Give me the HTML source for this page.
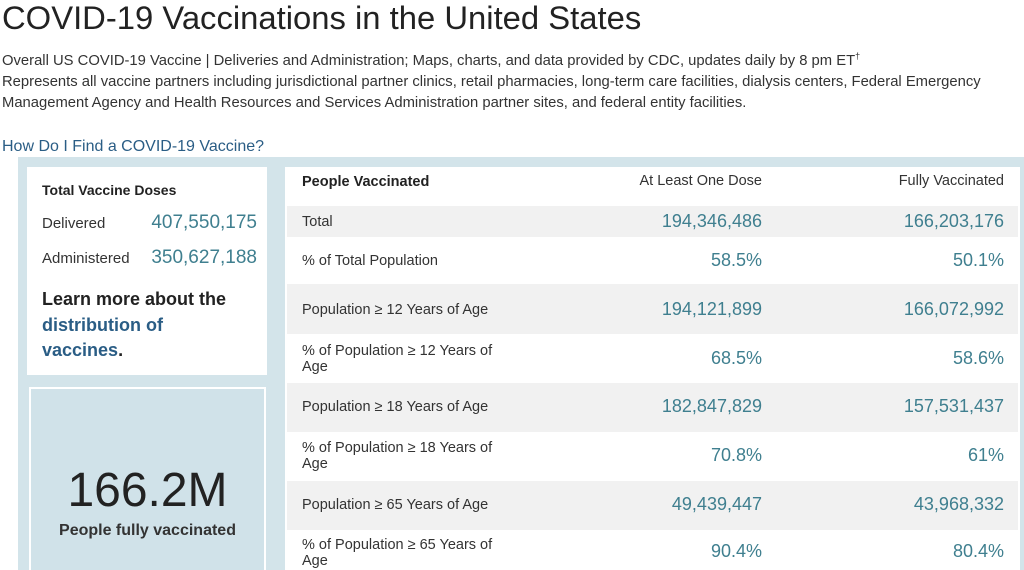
<!DOCTYPE html>
<html><head><meta charset="utf-8"><style>
html,body{margin:0;width:1024px;height:570px;overflow:hidden}
body{background:#fff;font-family:"Liberation Sans",sans-serif;color:#222;position:relative}
.a{position:absolute;white-space:nowrap}
.num{color:#3f7f8f}
.row{position:absolute;left:287px;width:731px}
.row .l{position:absolute;left:15px;font-size:14.5px;color:#333;line-height:16px}
.row .c1{position:absolute;right:256px;font-size:18px}
.row .c2{position:absolute;right:14px;font-size:18px}
.g{background:#f1f1f1}
</style></head><body>
<div class="a" style="left:2px;top:-1px;font-size:32.8px;color:#222">COVID-19 Vaccinations in the United States</div>
<div class="a" style="left:2px;top:46px;font-size:14.8px;color:#333;line-height:21px">Overall US COVID-19 Vaccine | Deliveries and Administration; Maps, charts, and data provided by CDC, updates daily by 8 pm ET<sup style="font-size:9px">†</sup><br>Represents all vaccine partners including jurisdictional partner clinics, retail pharmacies, long-term care facilities, dialysis centers, Federal Emergency<br>Management Agency and Health Resources and Services Administration partner sites, and federal entity facilities.</div>
<div class="a" style="left:2px;top:138px;font-size:16px;color:#2a5d85">How Do I Find a COVID-19 Vaccine?</div>
<div class="a" style="left:18px;top:157px;width:1006px;height:413px;background:#d3e4ea"></div>
<div class="a" style="left:27px;top:167px;width:240px;height:208px;background:#fff">
 <div class="a" style="left:15px;top:15px;font-size:14px;font-weight:bold">Total Vaccine Doses</div>
 <div class="a" style="left:15px;top:48px;font-size:15px;color:#333">Delivered</div>
 <div class="a num" style="right:10px;top:45px;font-size:19px">407,550,175</div>
 <div class="a" style="left:15px;top:83px;font-size:15px;color:#333">Administered</div>
 <div class="a num" style="right:10px;top:80px;font-size:19px">350,627,188</div>
 <div class="a" style="left:15px;top:120px;font-size:18px;font-weight:bold;line-height:25.5px">Learn more about the<br><span style="color:#2a5d85">distribution of<br>vaccines</span>.</div>
</div>
<div class="a" style="left:29px;top:387px;width:233px;height:190px;background:#d0e2e9;border:2px solid #fff">
 <div class="a" style="left:0;width:233px;text-align:center;top:74px;font-size:48px;color:#222">166.2M</div>
 <div class="a" style="left:0;width:233px;text-align:center;top:133px;font-size:16px;font-weight:bold;color:#333">People fully vaccinated</div>
</div>
<div class="a" style="left:285px;top:167px;width:735px;height:403px;background:#fff"></div>
<div class="row" style="top:167px;height:30px">
 <div class="l" style="top:7px;font-weight:bold;color:#222">People Vaccinated</div>
 <div class="c1" style="top:6px;font-size:14.5px;color:#333">At Least One Dose</div>
 <div class="c2" style="top:6px;font-size:14.5px;color:#333">Fully Vaccinated</div>
</div>
<div class="row g" style="top:206px;height:31px"><div class="l" style="top:8px">Total</div><div class="c1 num" style="top:5px">194,346,486</div><div class="c2 num" style="top:5px">166,203,176</div></div>
<div class="row" style="top:237px;height:47px"><div class="l" style="top:16px">% of Total Population</div><div class="c1 num" style="top:13px">58.5%</div><div class="c2 num" style="top:13px">50.1%</div></div>
<div class="row g" style="top:284px;height:50px"><div class="l" style="top:18px">Population ≥ 12 Years of Age</div><div class="c1 num" style="top:15px">194,121,899</div><div class="c2 num" style="top:15px">166,072,992</div></div>
<div class="row" style="top:334px;height:49px"><div class="l" style="top:9px">% of Population ≥ 12 Years of<br>Age</div><div class="c1 num" style="top:14px">68.5%</div><div class="c2 num" style="top:14px">58.6%</div></div>
<div class="row g" style="top:383px;height:49px"><div class="l" style="top:16px">Population ≥ 18 Years of Age</div><div class="c1 num" style="top:13px">182,847,829</div><div class="c2 num" style="top:13px">157,531,437</div></div>
<div class="row" style="top:432px;height:49px"><div class="l" style="top:8px">% of Population ≥ 18 Years of<br>Age</div><div class="c1 num" style="top:13px">70.8%</div><div class="c2 num" style="top:13px">61%</div></div>
<div class="row g" style="top:481px;height:49px"><div class="l" style="top:16px">Population ≥ 65 Years of Age</div><div class="c1 num" style="top:13px">49,439,447</div><div class="c2 num" style="top:13px">43,968,332</div></div>
<div class="row" style="top:530px;height:40px"><div class="l" style="top:7px">% of Population ≥ 65 Years of<br>Age</div><div class="c1 num" style="top:11px">90.4%</div><div class="c2 num" style="top:11px">80.4%</div></div>
</body></html>
